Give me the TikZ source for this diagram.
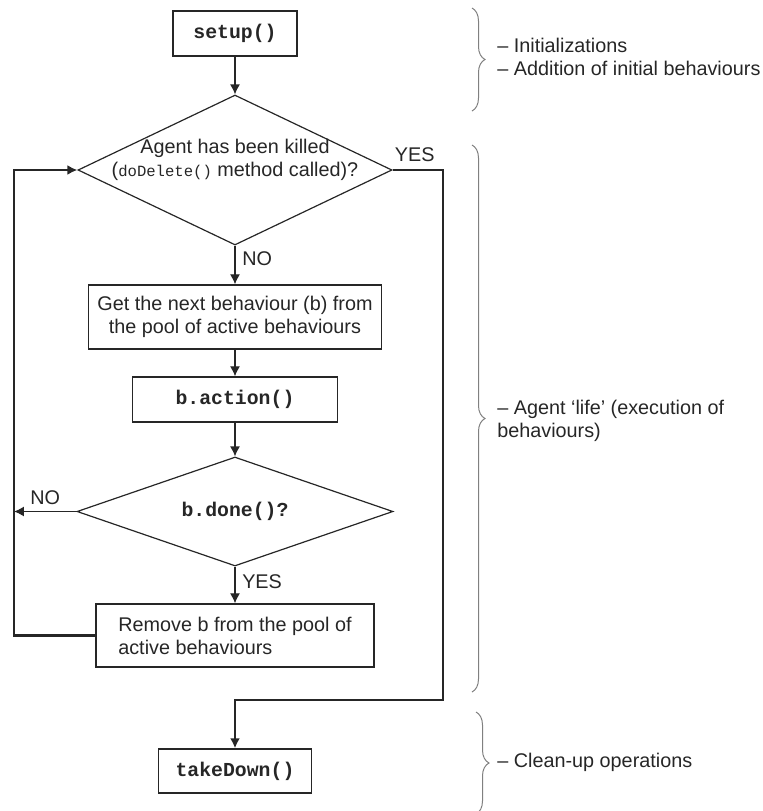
\documentclass[tikz,border=0pt]{standalone}
\usepackage{fontspec}
\setmainfont{Liberation Sans}
\setmonofont{Liberation Mono}
\usetikzlibrary{arrows.meta, shapes.geometric, decorations.pathreplacing}

\newcommand\mcall[1]{{\ttfamily\bfseries #1}}

\begin{document}
\begin{tikzpicture}[> = {Latex[length = 5pt, width = 5pt]}, x = 0.5pt, y = -0.5pt,
	every node/.style = {font = \fontsize{9.9}{11.5}\selectfont, text = black!85},
	stepbox/.style = {draw = black!85, line width = 0.7pt, inner sep = 0pt},
	decision/.style = {draw = black!85, diamond, aspect = 2, line width = 0.6pt, inner sep = 0pt},
	flow/.style = {->, draw = black!85, line width = 0.6pt},
	backline/.style = {->, draw = black!85, line width = 1.4pt},
	phase/.style = {draw = gray, line width = 0.5pt, decorate, decoration = {brace, amplitude = 6.5pt}},
	phasetext/.style = {anchor = west, align = left, inner sep = 0pt}]

	% Definitions

	\def\X{235}		% Flow column
	\useasboundingbox (0, 0) rectangle (763, 811);

	% Steps and tests

	\node [stepbox, minimum width = 62pt, minimum height = 22.5pt] (setup) at (\X, 33.5) {\mcall{setup()}};
	\node [decision, minimum width = 157pt, minimum height = 75pt] (killed) at (\X, 170) {};
	\node [align = center] (killedtext) at (\X, 160) {Agent has been killed\\({\ttfamily\fontsize{7.8}{9}\selectfont doDelete()} method called)?};
	\node [stepbox, minimum width = 146.5pt, minimum height = 32pt, align = center] (next) at (\X, 317) {Get the next behaviour (b) from\\the pool of active behaviours};
	\node [stepbox, minimum width = 102.5pt, minimum height = 22.5pt] (action) at (\X, 399.5) {\mcall{b.action()}};
	\node [decision, minimum width = 158pt, minimum height = 54.5pt] (done) at (\X, 511.5) {\mcall{b.done()?}};
	\node [stepbox, minimum width = 139pt, minimum height = 31.5pt, align = left] (remove) at (\X, 635.5) {Remove b from the pool of\\active behaviours};
	\node [stepbox, minimum width = 76.5pt, minimum height = 22pt] (takedown) at (\X, 771) {\mcall{takeDown()}};

	% Rails

	\coordinate (leftrail) at (14, 0);
	\coordinate (rightrail) at (443, 700);

	% Main flow

	\draw [flow] (setup) -- (killed);
	\draw [flow] (killed) -- node [right, pos = 0.33] (killedno) {NO} (next);
	\draw [flow] (next) -- (action);
	\draw [flow] (action) -- (done);
	\draw [flow] (done) -- node [right, pos = 0.42] (doneyes) {YES} (remove);
	\draw [flow] (done.west) -- node [above] (doneno) {NO} (leftrail |- done.west);

	% Loop back and exit

	\draw [backline] (remove.west) -| (leftrail |- killed.west) -- (killed.west);
	\draw [backline] (killed.east) -| node [above, pos = 0.22] (killedyes) {YES} (rightrail) -| (takedown.north);

	% Phases

	\draw [phase] (472, 8) -- (472, 111);
	\node [phasetext] (initnote) at (497, 57) {-- Initializations\\-- Addition of initial behaviours};
	\draw [phase] (472, 145) -- (472, 692);
	\node [phasetext] (lifenote) at (497, 421) {-- Agent `life' (execution of\\behaviours)};
	\draw [phase] (476, 712) -- (476, 814);
	\node [phasetext] (cleannote) at (497, 762) {-- Clean-up operations};

\end{tikzpicture}
\end{document}
